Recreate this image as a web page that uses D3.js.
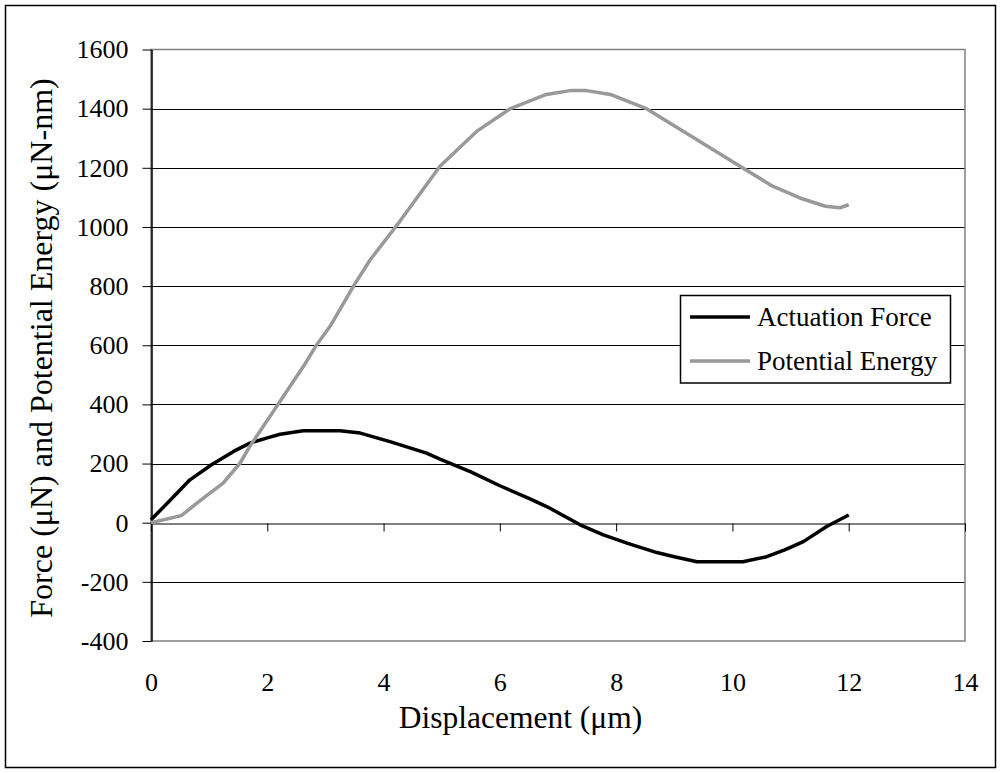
<!DOCTYPE html>
<html>
<head>
<meta charset="utf-8">
<script src="https://cdn.jsdelivr.net/npm/d3@7"></script>
<style>
  body { margin: 0; background: #fff; }
  svg text { font-family: "Liberation Serif", "Times New Roman", serif !important; fill: #000; }
</style>
</head>
<body>
<div id="chart"></div>
<script>
// displacement (um) / force (uN)
const forceX = [0, 0.3, 0.67, 1.04, 1.42, 1.7, 2.0, 2.22, 2.62, 3.25, 3.6, 4.11, 4.74, 4.97, 5.5, 6.0, 6.5, 6.86, 7.38, 7.78, 8.2, 8.7, 9.0, 9.39, 10.18, 10.59, 10.9, 11.22, 11.62, 12];
const forceY = [10, 70, 145, 196, 241, 269, 287, 299, 311, 311, 303, 274, 235, 215, 172, 125, 82, 49, -7, -41, -70, -101, -115, -132, -132, -115, -92, -64, -13, 26];

// displacement (um) / potential energy (uN-nm)
const energyX = [0, 0.52, 0.9, 1.24, 1.53, 1.7, 2.16, 2.62, 2.85, 3.08, 3.48, 3.77, 4.28, 4.97, 5.6, 6.17, 6.8, 7.21, 7.49, 7.9, 8.53, 9.16, 10.13, 10.7, 11.16, 11.6, 11.85, 12];
const energyY = [0, 24, 83, 134, 201, 258, 393, 528, 602, 664, 799, 889, 1019, 1205, 1323, 1399, 1448, 1461, 1461, 1448, 1399, 1323, 1205, 1137, 1098, 1070, 1065, 1075];

const xTicks = [0, 2, 4, 6, 8, 10, 12, 14];
const yTicks = [-400, -200, 0, 200, 400, 600, 800, 1000, 1200, 1400, 1600];

const seriesNames = ['Actuation Force', 'Potential Energy'];
const seriesColors = ['#000000', '#999999'];

const width = 1001;
const height = 773;
const plot = { left: 151, right: 965, top: 49.5, bottom: 641 };
const fmt = d => String(d);

const svg = d3.select('#chart').append('svg')
    .attr('width', width)
    .attr('height', height);

// outer frame
svg.append('rect')
    .attr('x', 5.5).attr('y', 5.5)
    .attr('width', width - 11).attr('height', height - 11)
    .attr('fill', 'none').attr('stroke', '#000').attr('stroke-width', 1.5);

const x = d3.scaleLinear().domain([0, 14]).range([plot.left, plot.right]);
const y = d3.scaleLinear().domain([-400, 1600]).range([plot.bottom, plot.top]);

// gridlines
svg.append('g')
    .selectAll('line')
    .data(yTicks.filter(d => d > -400 && d < 1600 && d !== 0))
    .join('line')
    .attr('x1', plot.left).attr('x2', plot.right)
    .attr('y1', d => Math.round(y(d)) + 0.5).attr('y2', d => Math.round(y(d)) + 0.5)
    .attr('stroke', '#000').attr('stroke-width', 1);

// plot border
svg.append('rect')
    .attr('x', plot.left).attr('y', plot.top)
    .attr('width', plot.right - plot.left).attr('height', plot.bottom - plot.top)
    .attr('fill', 'none').attr('stroke', '#808080').attr('stroke-width', 1.5);

// y axis
const yAxis = svg.append('g')
    .attr('transform', `translate(${plot.left + 0.5},0)`)
    .call(d3.axisLeft(y).tickValues(yTicks).tickSize(9).tickSizeOuter(0).tickPadding(14).tickFormat(fmt));
yAxis.select('.domain').attr('stroke', '#000').attr('stroke-width', 1.5);
yAxis.selectAll('.tick line').attr('stroke', '#000');
yAxis.selectAll('.tick text').attr('font-size', 26);

// x axis through zero
const xAxis = svg.append('g')
    .attr('transform', `translate(0,${Math.round(y(0)) + 0.5})`)
    .call(d3.axisBottom(x).tickValues(xTicks).tickSize(8).tickSizeOuter(0).tickFormat(''));
xAxis.select('.domain').attr('stroke', '#000');
xAxis.selectAll('.tick line').attr('stroke', '#000');

// x tick labels below the plot
const xLabels = svg.append('g')
    .attr('transform', `translate(0,${plot.bottom})`)
    .call(d3.axisBottom(x).tickValues(xTicks).tickSize(0).tickFormat(fmt));
xLabels.select('.domain').remove();
xLabels.selectAll('.tick text')
    .attr('font-size', 26)
    .attr('dy', null).attr('y', 50);

// series lines
const line = d3.line().x(d => x(d[0])).y(d => y(d[1]));
const series = [
    d3.zip(forceX, forceY),
    d3.zip(energyX, energyY),
];
svg.append('g')
    .selectAll('path')
    .data(series)
    .join('path')
    .attr('d', line)
    .attr('fill', 'none')
    .attr('stroke', (d, i) => seriesColors[i])
    .attr('stroke-width', 3.5)
    .attr('stroke-linejoin', 'round');

// legend
const legend = svg.append('g');
legend.append('rect')
    .attr('x', 680.5).attr('y', 295.5)
    .attr('width', 270).attr('height', 87.5)
    .attr('fill', '#fff').attr('stroke', '#000').attr('stroke-width', 1.5);
const rows = legend.selectAll('g.row')
    .data(seriesNames)
    .join('g')
    .attr('class', 'row')
    .attr('transform', (d, i) => `translate(0,${317 + i * 44})`);
rows.append('line')
    .attr('x1', 690).attr('x2', 750)
    .attr('stroke', (d, i) => seriesColors[i]).attr('stroke-width', 3.5);
rows.append('text')
    .attr('x', 757).attr('dy', '0.33em')
    .attr('font-size', 27)
    .text(d => d);

// axis titles
svg.append('text')
    .attr('x', 520.5).attr('y', 728)
    .attr('text-anchor', 'middle')
    .attr('font-size', 31.5)
    .text('Displacement (\u03bcm)');

svg.append('text')
    .attr('transform', 'translate(52,348) rotate(-90)')
    .attr('text-anchor', 'middle')
    .attr('font-size', 32)
    .text('Force (\u03bcN) and Potential Energy (\u03bcN-nm)');
</script>
</body>
</html>
